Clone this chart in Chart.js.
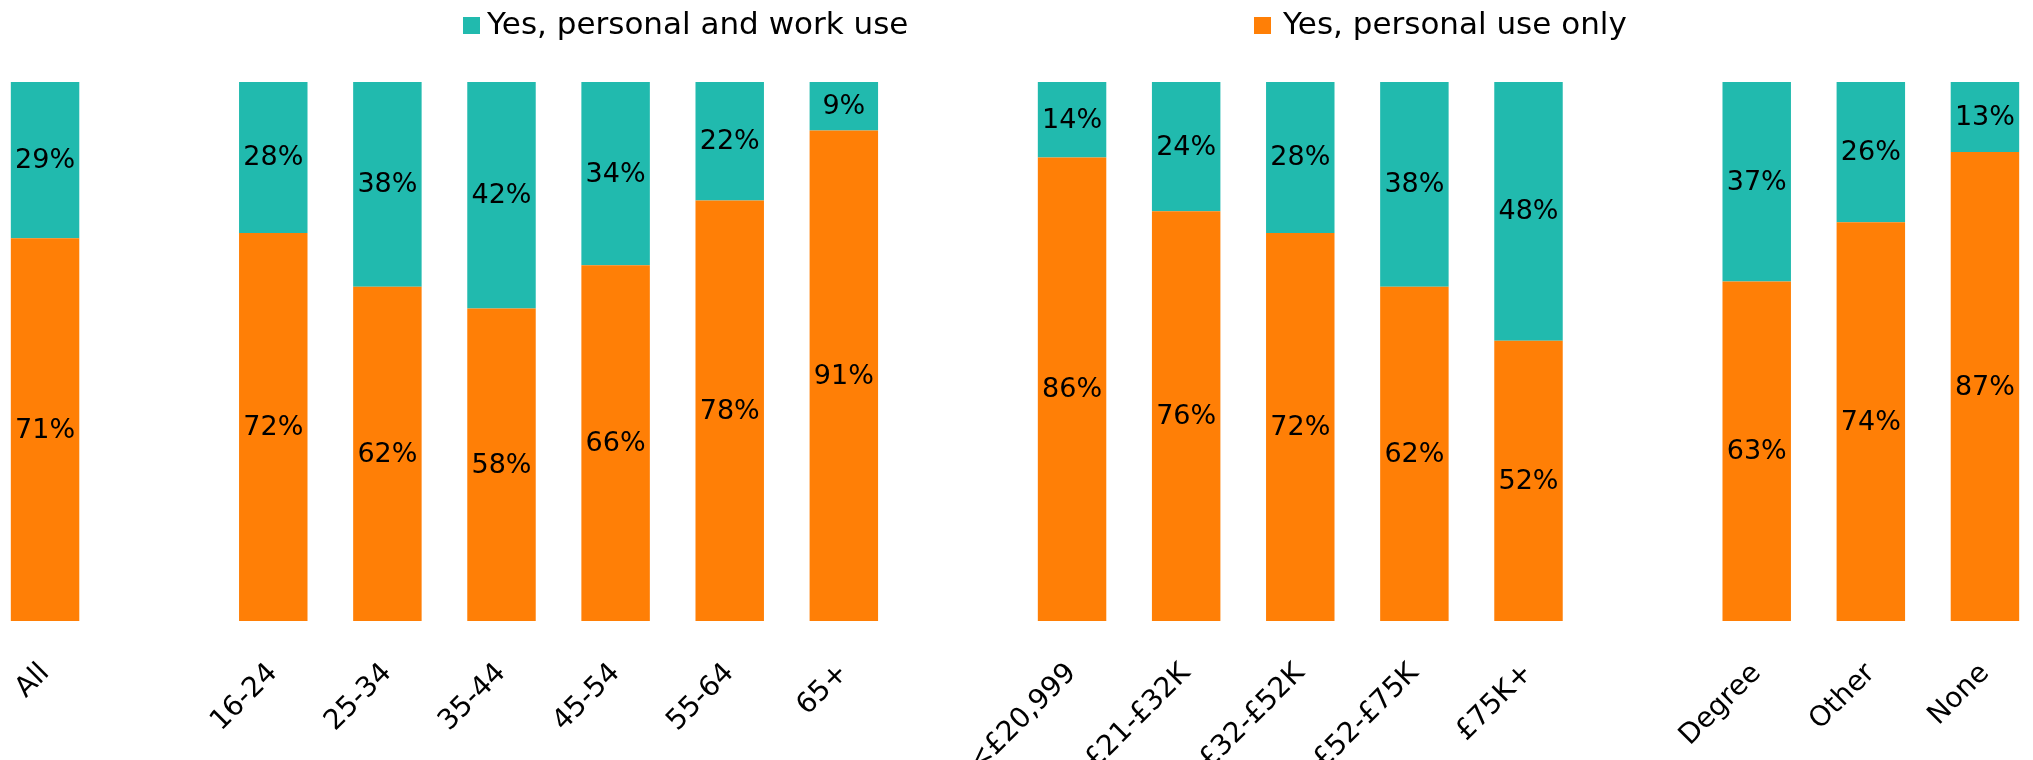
<!DOCTYPE html>
<html><head><meta charset="utf-8">
<script src="https://cdn.jsdelivr.net/npm/chart.js@4"></script>
<style>
html,body{margin:0;padding:0;overflow:hidden;background:#fff;width:2033px;height:760px;}
#wrap{position:absolute;left:-12px;top:0;width:2054px;height:760px;}
</style></head><body>
<div id="wrap"><canvas id="c"></canvas></div>
<script>
const categories = ['All', '', '16-24', '25-34', '35-44', '45-54', '55-64', '65+', '',
  '<£20,999', '£21-£32K', '£32-£52K', '£52-£75K', '£75K+', '', 'Degree', 'Other', 'None'];
const personalAndWork = [29, null, 28, 38, 42, 34, 22, 9, null, 14, 24, 28, 38, 48, null, 37, 26, 13];
const personalOnly    = [71, null, 72, 62, 58, 66, 78, 91, null, 86, 76, 72, 62, 52, null, 63, 74, 87];
const seriesNames = ['Yes, personal and work use', 'Yes, personal use only'];

const TEAL = '#21BAAE';
const ORANGE = '#FF7F06';
const FONT = '"DejaVu Sans", sans-serif';

const legendPlugin = {
  id: 'customLegend',
  afterDraw(chart) {
    const ctx = chart.ctx;
    const items = [
      {ds: chart.data.datasets[1], bx: 475, tx: 499},
      {ds: chart.data.datasets[0], bx: 1266, tx: 1295}
    ];
    ctx.save();
    ctx.font = '31px ' + FONT;
    ctx.textBaseline = 'alphabetic';
    ctx.textAlign = 'left';
    items.forEach(it => {
      ctx.fillStyle = it.ds.backgroundColor;
      ctx.fillRect(it.bx, 17, 17, 17);
      ctx.fillStyle = '#000';
      ctx.fillText(it.ds.label, it.tx, 34);
    });
    ctx.restore();
  }
};

const labelPlugin = {
  id: 'segLabels',
  afterDatasetsDraw(chart) {
    const ctx = chart.ctx;
    ctx.save();
    ctx.font = '27px ' + FONT;
    ctx.fillStyle = '#000';
    ctx.textAlign = 'center';
    ctx.textBaseline = 'middle';
    chart.data.datasets.forEach((ds, di) => {
      const meta = chart.getDatasetMeta(di);
      meta.data.forEach((el, i) => {
        const v = ds.data[i];
        if (v === null || v === undefined) return;
        const p = el.getProps(['x', 'y', 'base'], true);
        ctx.fillText(v + '%', p.x, (p.y + p.base) / 2 + 1);
      });
    });
    ctx.restore();
  }
};

new Chart(document.getElementById('c'), {
  type: 'bar',
  data: {
    labels: categories,
    datasets: [
      {label: seriesNames[1], data: personalOnly, backgroundColor: ORANGE,
       barPercentage: 0.6, categoryPercentage: 1.0},
      {label: seriesNames[0], data: personalAndWork, backgroundColor: TEAL,
       barPercentage: 0.6, categoryPercentage: 1.0}
    ]
  },
  options: {
    responsive: true,
    maintainAspectRatio: false,
    animation: false,
    layout: {padding: {top: 82, left: 0, right: 0, bottom: 0}},
    plugins: {legend: {display: false}, tooltip: {enabled: false}},
    scales: {
      x: {
        stacked: true,
        grid: {display: false, drawTicks: false},
        border: {display: false},
        ticks: {
          autoSkip: false, maxRotation: 45, minRotation: 45, padding: 36,
          color: '#000', font: {family: FONT, size: 28}
        },
        afterFit(scale) { scale.height = 139; scale.paddingLeft = 0; scale.paddingRight = 0; }
      },
      y: {
        stacked: true, min: 0, max: 100, display: false
      }
    }
  },
  plugins: [legendPlugin, labelPlugin]
});
</script>
</body></html>
